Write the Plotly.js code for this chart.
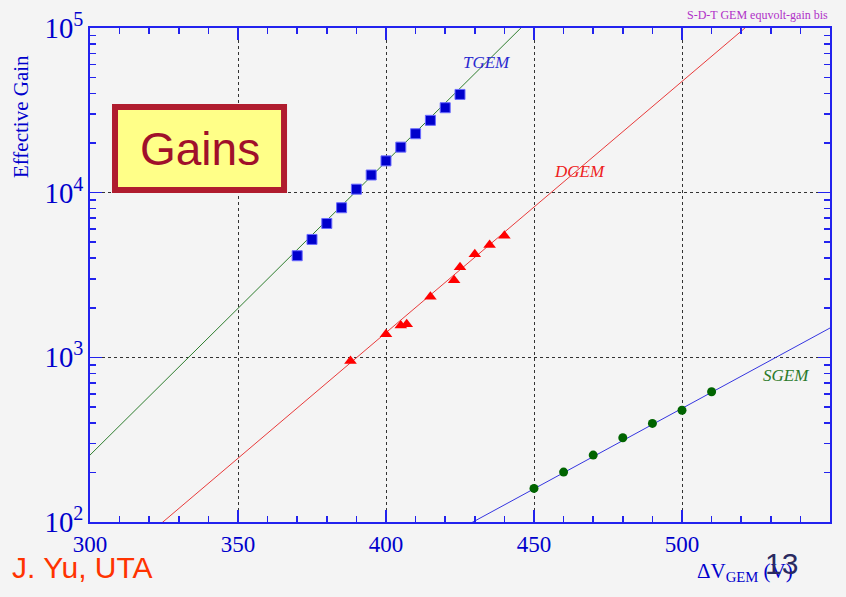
<!DOCTYPE html>
<html><head><meta charset="utf-8">
<script src="https://cdn.plot.ly/plotly-3.0.1.min.js"></script>
<style>html,body{margin:0;padding:0;background:#f4f4f4;}</style>
</head><body>
<div id="chart" style="width:846px;height:597px;"></div>
<script>
// TGEM data (blue squares)
const tgemX = [370, 375, 380, 385, 390, 395, 400, 405, 410, 415, 420, 425];
const tgemY = [4140, 5200, 6500, 8100, 10500, 12800, 15600, 18900, 22800, 27500, 32800, 39500];
// DGEM data (red triangles)
const dgemX = [388, 400, 405, 407, 415, 423, 425, 430, 435, 440];
const dgemY = [950, 1380, 1560, 1590, 2330, 2940, 3520, 4220, 4810, 5470];
// SGEM data (green circles)
const sgemX = [450, 460, 470, 480, 490, 500, 510];
const sgemY = [160, 201, 255, 325, 397, 477, 618];
// Exponential fit lines (endpoints)
const tgemFitX = [300, 450];
const tgemFitY = [255, 120000];
const dgemFitX = [320, 525];
const dgemFitY = [85, 114000];
const sgemFitX = [428, 550];
const sgemFitY = [97, 1507];
const xTicks = [300, 350, 400, 450, 500, 550];

const serif = 'Liberation Serif, Times New Roman, serif';
const sans = 'Liberation Sans, Arial, sans-serif';
const axisBlue = '#2222ee';
const labelBlue = '#0000cc';

const traces = [
  {x: tgemFitX, y: tgemFitY, mode: 'lines', line: {color: '#2e7d2e', width: 1}, hoverinfo: 'skip'},
  {x: dgemFitX, y: dgemFitY, mode: 'lines', line: {color: '#e83a3a', width: 1}, hoverinfo: 'skip'},
  {x: sgemFitX, y: sgemFitY, mode: 'lines', line: {color: '#3535e0', width: 1}, hoverinfo: 'skip'},
  {x: tgemX, y: tgemY, mode: 'markers', marker: {symbol: 'square', size: 10, color: '#0000cc', line: {color: '#6a6aff', width: 1}}},
  {x: dgemX, y: dgemY, mode: 'markers', marker: {symbol: 'triangle-up', size: 11, color: '#ff0000', line: {width: 0}}},
  {x: sgemX, y: sgemY, mode: 'markers', marker: {symbol: 'circle', size: 9, color: '#006400', line: {width: 0}}}
];

const layout = {
  width: 846, height: 597,
  margin: {l: 90, r: 16, t: 28, b: 75},
  paper_bgcolor: '#f4f4f4',
  plot_bgcolor: '#f4f4f4',
  showlegend: false,
  xaxis: {
    range: [300, 550],
    tickvals: xTicks,
    ticks: 'inside', ticklen: 12, tickwidth: 1.5, tickcolor: axisBlue,
    showline: true, linecolor: axisBlue, linewidth: 2, mirror: 'allticks',
    showgrid: true, gridcolor: '#333333', griddash: 'dot', gridwidth: 1,
    zeroline: false,
    tickfont: {family: serif, size: 23, color: labelBlue},
    minor: {dtick: 10, ticks: 'inside', ticklen: 6, tickcolor: axisBlue, showgrid: false}
  },
  yaxis: {
    type: 'log',
    range: [2, 5],
    dtick: 1,
    exponentformat: 'power',
    ticks: 'inside', ticklen: 12, tickwidth: 1.5, tickcolor: axisBlue,
    showline: true, linecolor: axisBlue, linewidth: 2, mirror: 'allticks',
    showgrid: true, gridcolor: '#333333', griddash: 'dot', gridwidth: 1,
    zeroline: false,
    tickfont: {family: serif, size: 23, color: labelBlue},
    minor: {dtick: 'D1', ticks: 'inside', ticklen: 6, tickcolor: axisBlue, showgrid: false}
  },
  shapes: [
    {type: 'rect', xref: 'paper', yref: 'paper', x0: 0.0338, x1: 0.2622, y0: 0.672, y1: 0.840,
     fillcolor: '#ffff88', line: {color: '#b01c2e', width: 6}}
  ],
  annotations: [
    {xref: 'paper', yref: 'paper', x: 0.148, y: 0.756, xanchor: 'center', yanchor: 'middle', text: 'Gains', showarrow: false,
     font: {family: sans, size: 46, color: '#a0102a'}},
    {xref: 'x', yref: 'y', x: 434, y: 4.79, xanchor: 'center', yanchor: 'middle', text: '<i>TGEM</i>', showarrow: false,
     font: {family: serif, size: 17, color: '#2a2ad0'}},
    {xref: 'x', yref: 'y', x: 465.5, y: 4.126, xanchor: 'center', yanchor: 'middle', text: '<i>DGEM</i>', showarrow: false,
     font: {family: serif, size: 17, color: '#ee2020'}},
    {xref: 'x', yref: 'y', x: 535, y: 2.887, xanchor: 'center', yanchor: 'middle', text: '<i>SGEM</i>', showarrow: false,
     font: {family: serif, size: 17, color: '#2a7a2a'}},
    {xref: 'paper', yref: 'paper', x: -0.093, y: 0.82, xanchor: 'center', yanchor: 'middle', text: 'Effective Gain', textangle: -90, showarrow: false,
     font: {family: serif, size: 21, color: labelBlue}},
    {xref: 'paper', yref: 'paper', x: 1.0, xanchor: 'right', y: 1.026, yanchor: 'middle', text: 'S-D-T GEM equvolt-gain bis', showarrow: false,
     font: {family: serif, size: 12, color: '#b030c8'}},
    {xref: 'paper', yref: 'paper', x: 0.885, xanchor: 'center', y: -0.101, yanchor: 'middle', text: 'ΔV<sub>GEM</sub> (V)', showarrow: false,
     font: {family: serif, size: 21, color: labelBlue}},
    {xref: 'paper', yref: 'paper', x: 0.935, xanchor: 'center', y: -0.083, yanchor: 'middle', text: '13', showarrow: false,
     font: {family: sans, size: 30, color: '#2a2a60'}},
    {xref: 'paper', yref: 'paper', x: -0.108, xanchor: 'left', y: -0.092, yanchor: 'middle', text: 'J. Yu, UTA', showarrow: false,
     font: {family: sans, size: 30, color: '#ff3300'}}
  ]
};

Plotly.newPlot('chart', traces, layout, {displayModeBar: false, staticPlot: true});
</script>
</body></html>
